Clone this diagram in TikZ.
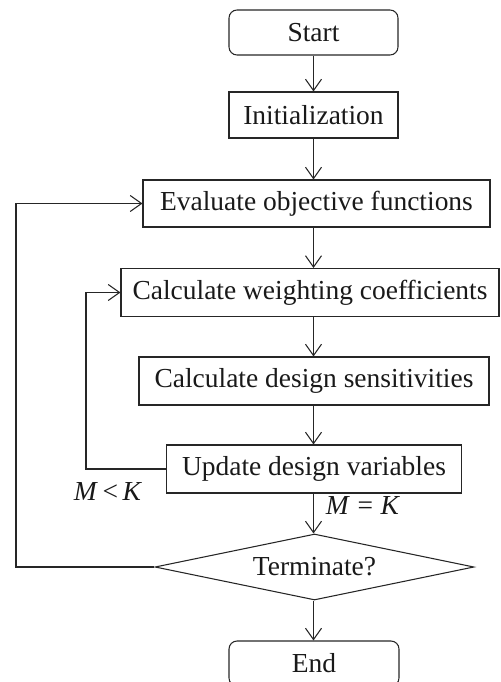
\documentclass[tikz,border=0pt]{standalone}
\usepackage{fontspec}
\setmainfont{Liberation Serif}
\usetikzlibrary{arrows.meta,shapes.geometric}
\begin{document}
\begin{tikzpicture}[x=0.75pt,y=-0.75pt,
  stepbox/.style={draw=black!85, line width=0.8pt, inner sep=0pt, text=black!90,
    font=\fontsize{20.6}{24}\selectfont},
  termbox/.style={stepbox, rounded corners=6pt},
  decision/.style={stepbox, diamond, aspect=4.8},
  cond/.style={inner sep=0pt, text=black!90, font=\fontsize{20.6}{24}\selectfont, anchor=base},
  arr/.style={draw=black!85, line width=0.8pt, -{Straight Barb[length=8.5pt,width=12pt]}}]
  \useasboundingbox (0,0) rectangle (500,682);

  % process nodes
  \node[termbox, minimum width=126.75pt, minimum height=33.75pt] (start)  at (313.5,32.5) {Start};
  \node[stepbox, minimum width=126.75pt, minimum height=34.5pt]  (init)   at (313.5,115)  {Initialization};
  \node[stepbox, minimum width=260.25pt, minimum height=35.25pt] (eval)   at (316.5,203.5) {Evaluate objective functions};
  \node[stepbox, minimum width=283.5pt,  minimum height=36pt]    (weight) at (310,292.5)  {Calculate weighting coefficients};
  \node[stepbox, minimum width=262.5pt,  minimum height=36pt]    (sens)   at (314,381)    {Calculate design sensitivities};
  \node[stepbox, minimum width=221.25pt, minimum height=36pt]    (update) at (314,469)    {Update design variables};
  \node[decision, minimum width=239.25pt, minimum height=49.5pt] (term)   at (314.5,567)  {Terminate?};
  \node[termbox, minimum width=127.5pt,  minimum height=33.75pt] (end)    at (314,663.5)  {End};

  % guide lines for the main flow and the two loops
  \coordinate (spine) at (313.5,0);
  \coordinate (outer) at (16,0);
  \coordinate (inner) at (86,0);

  % main flow
  \draw[arr] (start.south -| spine) -- (init.north -| spine);
  \draw[arr] (init.south -| spine)  -- (eval.north -| spine);
  \draw[arr] (eval.south -| spine)  -- (weight.north -| spine);
  \draw[arr] (weight.south -| spine) -- (sens.north -| spine);
  \draw[arr] (sens.south -| spine)  -- (update.north -| spine);
  \draw[arr] (update.south -| spine) -- (term.north -| spine);
  \draw[arr] (term.south -| spine)  -- (end.north -| spine);

  % loops
  \draw[arr] (term.west) -- (term.west -| outer) |- (eval.west);
  \draw[arr] (update.west) -- (update.west -| inner) |- (weight.west);

  % loop conditions
  \node[cond] (lt) at (108,500) {\textit{M}\,<\,\textit{K}};
  \node[cond] (eq) at (363,514) {\textit{M}\;=\;\textit{K}};
\end{tikzpicture}
\end{document}
